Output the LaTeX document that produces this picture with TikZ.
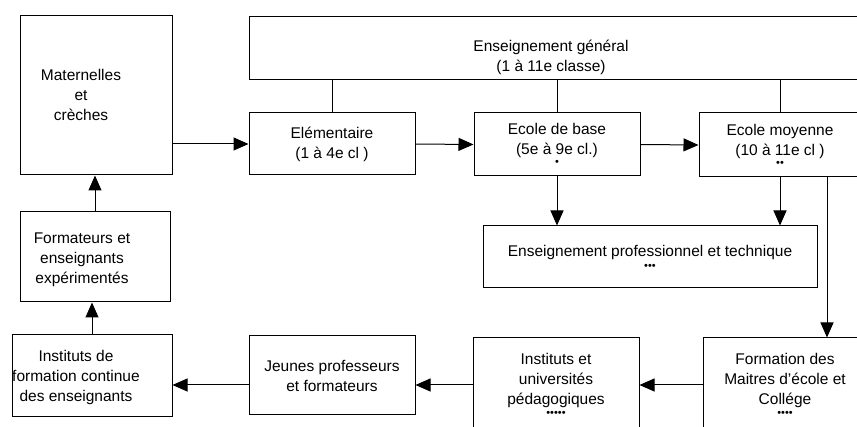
\documentclass[tikz,border=0pt]{standalone}
\usepackage{fontspec}
\setmainfont{Liberation Sans}
\usepackage{tikz}
\usetikzlibrary{arrows.meta,positioning}
\tikzset{>={Triangle[length=15pt,width=13pt]},
	box/.style={draw,line width=1pt,align=center,inner sep=0pt,
		font=\fontsize{15.5}{20}\selectfont},
	boxtext/.style={align=center,inner sep=0pt,font=\fontsize{15.5}{20}\selectfont},
	link/.style={line width=1pt},
	flow/.style={line width=1pt,->}}
\newcommand{\pts}[1]{{\fontsize{11}{11}\selectfont #1}}

\begin{document}
\begin{tikzpicture}[x=1pt,y=-1pt]
	\useasboundingbox (0,0) rectangle (857,427);
	\clip (0,0) rectangle (857,427);
	\node[box,minimum width=152pt,minimum height=159pt] (mat) at (96,95.5) {};
	\node[boxtext] (mat-t) at (81,95) {Maternelles\\et\\crèches};
	\node[box,minimum width=616pt,minimum height=63pt] (top) at (557,48.5) {};
	\node[boxtext] (top-t) at (551,57) {Enseignement général\\(1 à 11e classe)};
	\node[box,minimum width=166pt,minimum height=62pt] (elem) at (332,144)
		{Elémentaire\\(1 à 4e cl )};
	\node[box,minimum width=166pt,minimum height=63pt] (base) at (557,144.5)
		{Ecole de base\\(5e à 9e cl.)\\[-9pt]\pts{•}};
	\node[box,minimum width=162pt,minimum height=64pt] (moy) at (780,145)
		{Ecole moyenne\\(10 à 11e cl )\\[-9pt]\pts{••}};
	\node[box,minimum width=334pt,minimum height=62pt] (prof) at (650,257)
		{Enseignement professionnel et technique\\[-7pt]\pts{•••}};
	\node[box,minimum width=164pt,minimum height=94pt] (form) at (785,385)
		{Formation des\\Maitres d'école et\\Collége\\[-8pt]\pts{••••}};
	\node[box,minimum width=166pt,minimum height=94pt] (iup) at (556,385)
		{Instituts et\\universités\\pédagogiques\\[-8pt]\pts{•••••}};
	\node[box,minimum width=166pt,minimum height=79pt] (jeunes) at (332,375.5)
		{Jeunes professeurs\\et formateurs};
	\node[box,minimum width=160pt,minimum height=82pt] (ifc) at (92,376) {};
	\node[boxtext] (ifc-t) at (76,377) {Instituts de\\formation continue\\des enseignants};
	\node[box,minimum width=150pt,minimum height=90pt] (fmt) at (95,257) {};
	\node[boxtext] (fmt-t) at (82,260) {Formateurs et\\enseignants\\expérimentés};
	\coordinate (mr) at ([xshift=47pt]moy.south);
	\draw[link] (elem.north) -- (elem.north |- top.south);
	\draw[link] (base.north) -- (base.north |- top.south);
	\draw[link] (moy.north) -- (moy.north |- top.south);
	\draw[flow] (mat.east |- elem.west) -- (elem.west);
	\draw[flow] (elem.east) -- (base.west);
	\draw[flow] (base.east) -- (moy.west);
	\draw[flow] (base.south) -- (base.south |- prof.north);
	\draw[flow] (moy.south) -- (moy.south |- prof.north);
	\draw[flow] (mr) -- (mr |- form.north);
	\draw[flow] (form.west) -- (form.west -| iup.east);
	\draw[flow] (iup.west) -- (iup.west -| jeunes.east);
	\draw[flow] (jeunes.west |- iup.west) -- (iup.west -| ifc.east);
	\draw[flow] (ifc.north) -- (ifc.north |- fmt.south);
	\draw[flow] (fmt.north) -- (fmt.north |- mat.south);
\end{tikzpicture}
\end{document}
